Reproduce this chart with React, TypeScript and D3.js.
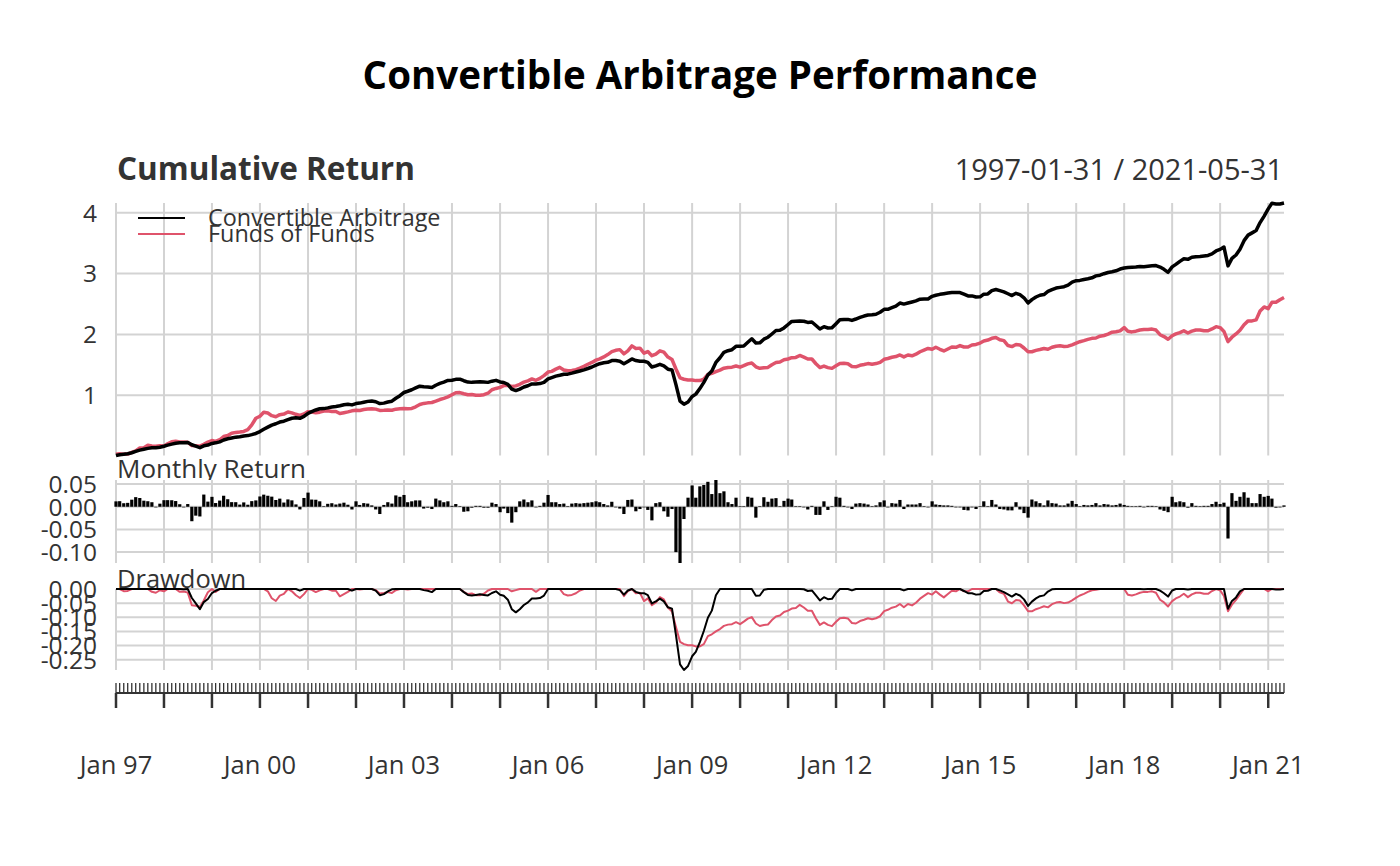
import * as d3 from 'd3'

// EDHEC style monthly returns, Jan 1997 .. May 2021 (one row per year)
const startYear = 1997
const seriesNames = ['Convertible Arbitrage', 'Funds of Funds']
const seriesColors = ['#000000', '#DF536B']

const caReturns = [
  0.0119, 0.0123, 0.0078, 0.0086, 0.0156, 0.0212, 0.0193, 0.0134, 0.0122, 0.0100, 0.0000, 0.0068,
  0.0145, 0.0146, 0.0144, 0.0126, 0.0056, -0.0006, 0.0060, -0.0319, -0.0196, -0.0214, 0.0269, 0.0113,
  0.0219, 0.0082, 0.0136, 0.0243, 0.0166, 0.0102, 0.0101, 0.0048, 0.0096, 0.0045, 0.0124, 0.0140,
  0.0227, 0.0267, 0.0243, 0.0223, 0.0149, 0.0179, 0.0093, 0.0162, 0.0141, 0.0052, -0.0059, 0.0194,
  0.0312, 0.0159, 0.0155, 0.0120, 0.0010, 0.0065, 0.0078, 0.0050, 0.0070, 0.0090, 0.0045, -0.0060,
  0.0120, 0.0040, 0.0080, 0.0070, 0.0030, -0.0060, -0.0160, 0.0040, 0.0100, 0.0070, 0.0250, 0.0220,
  0.0260, 0.0100, 0.0120, 0.0140, 0.0140, -0.0040, -0.0020, -0.0050, 0.0180, 0.0140, 0.0100, 0.0120,
  0.0020, 0.0060, 0.0010, -0.0110, -0.0100, -0.0020, 0.0020, 0.0020, -0.0020, -0.0020, 0.0090, 0.0060,
  -0.0120, -0.0040, -0.0140, -0.0350, -0.0120, 0.0120, 0.0160, 0.0100, 0.0140, 0.0000, 0.0020, 0.0090,
  0.0260, 0.0100, 0.0100, 0.0060, 0.0070, 0.0010, 0.0070, 0.0080, 0.0070, 0.0080, 0.0090, 0.0100,
  0.0120, 0.0100, 0.0060, 0.0030, 0.0110, 0.0000, -0.0040, -0.0160, 0.0150, 0.0160, -0.0100, -0.0050,
  0.0000, -0.0070, -0.0300, 0.0080, 0.0100, -0.0100, -0.0220, -0.0050, -0.1000, -0.1240, -0.0270, 0.0200,
  0.0470, 0.0200, 0.0450, 0.0480, 0.0550, 0.0280, 0.0590, 0.0300, 0.0340, 0.0100, 0.0060, 0.0200,
  0.0010, 0.0010, 0.0220, 0.0200, -0.0240, 0.0010, 0.0210, 0.0110, 0.0180, 0.0190, 0.0010, 0.0130,
  0.0180, 0.0160, 0.0010, 0.0010, -0.0010, -0.0060, 0.0020, -0.0180, -0.0180, 0.0120, -0.0070, 0.0010,
  0.0220, 0.0200, 0.0020, 0.0000, -0.0050, 0.0070, 0.0080, 0.0070, 0.0050, 0.0010, 0.0030, 0.0100,
  0.0140, 0.0000, 0.0080, 0.0070, 0.0150, -0.0050, 0.0050, 0.0050, 0.0050, 0.0080, 0.0010, 0.0000,
  0.0120, 0.0050, 0.0040, 0.0030, 0.0030, 0.0020, 0.0000, 0.0000, -0.0070, -0.0080, 0.0000, -0.0050,
  0.0010, 0.0120, 0.0010, 0.0150, 0.0050, -0.0050, -0.0060, -0.0080, -0.0080, 0.0100, -0.0060, -0.0140,
  -0.0240, 0.0160, 0.0120, 0.0080, 0.0030, 0.0140, 0.0080, 0.0070, 0.0030, 0.0030, 0.0070, 0.0130,
  0.0060, 0.0010, 0.0040, 0.0030, 0.0040, 0.0080, 0.0030, 0.0060, 0.0050, 0.0030, 0.0040, 0.0070,
  0.0040, 0.0020, 0.0010, 0.0010, 0.0020, -0.0010, 0.0020, 0.0020, 0.0010, -0.0060, -0.0090, -0.0120,
  0.0220, 0.0100, 0.0120, 0.0100, -0.0020, 0.0080, 0.0020, 0.0010, 0.0020, 0.0020, 0.0060, 0.0110,
  0.0060, 0.0090, -0.0700, 0.0300, 0.0130, 0.0220, 0.0320, 0.0200, 0.0080, 0.0080, 0.0280, 0.0220,
  0.0240, 0.0180, -0.0020, 0.0000, 0.0030,
]

const fofReturns = [
  0.0317, 0.0106, -0.0077, 0.0009, 0.0275, 0.0225, 0.0435, 0.0051, 0.0334, -0.0099, -0.0034, 0.0089,
  -0.0036, 0.0300, 0.0280, 0.0056, -0.0100, 0.0013, -0.0041, -0.0450, -0.0020, -0.0050, 0.0250, 0.0300,
  0.0211, -0.0105, 0.0216, 0.0412, 0.0128, 0.0290, 0.0093, 0.0039, 0.0072, 0.0207, 0.0538, 0.0729,
  0.0200, 0.0400, -0.0080, -0.0250, -0.0100, 0.0200, 0.0060, 0.0200, -0.0080, -0.0140, -0.0100, 0.0140,
  0.0220, -0.0030, -0.0080, 0.0060, 0.0100, 0.0030, -0.0060, 0.0000, -0.0200, 0.0080, 0.0080, 0.0100,
  0.0060, -0.0020, 0.0080, 0.0050, 0.0030, -0.0040, -0.0120, 0.0020, 0.0030, -0.0030, 0.0100, 0.0040,
  0.0020, -0.0020, 0.0030, 0.0150, 0.0200, 0.0100, 0.0050, 0.0030, 0.0120, 0.0140, 0.0100, 0.0120,
  0.0180, 0.0160, 0.0020, -0.0100, -0.0080, 0.0020, -0.0060, 0.0000, 0.0050, 0.0120, 0.0280, 0.0100,
  0.0080, 0.0140, 0.0020, -0.0080, 0.0040, 0.0120, 0.0160, 0.0100, 0.0140, -0.0100, 0.0140, 0.0200,
  0.0250, 0.0050, 0.0150, 0.0120, -0.0180, -0.0050, 0.0020, 0.0060, 0.0100, 0.0120, 0.0140, 0.0120,
  0.0150, 0.0080, 0.0120, 0.0150, 0.0180, 0.0080, 0.0040, -0.0250, 0.0180, 0.0300, -0.0150, 0.0020,
  -0.0300, 0.0100, -0.0250, 0.0100, 0.0200, -0.0080, -0.0300, -0.0150, -0.0600, -0.0600, -0.0100, -0.0050,
  0.0000, -0.0050, 0.0000, 0.0100, 0.0350, 0.0080, 0.0120, 0.0100, 0.0130, 0.0050, 0.0020, 0.0080,
  -0.0080, 0.0100, 0.0120, 0.0060, -0.0250, -0.0100, 0.0040, 0.0020, 0.0180, 0.0140, 0.0040, 0.0140,
  0.0050, 0.0080, 0.0020, 0.0120, -0.0100, -0.0120, 0.0000, -0.0300, -0.0250, 0.0100, -0.0100, -0.0050,
  0.0180, 0.0140, 0.0020, -0.0030, -0.0180, -0.0020, 0.0100, 0.0050, 0.0060, -0.0040, 0.0040, 0.0080,
  0.0200, 0.0050, 0.0080, 0.0040, 0.0100, -0.0120, 0.0120, -0.0050, 0.0100, 0.0150, 0.0100, 0.0100,
  -0.0050, 0.0120, -0.0120, -0.0100, 0.0120, 0.0120, -0.0020, 0.0100, -0.0080, 0.0000, 0.0120, 0.0030,
  0.0080, 0.0120, 0.0050, 0.0100, 0.0040, -0.0120, -0.0050, -0.0280, -0.0060, 0.0120, -0.0020, -0.0180,
  -0.0220, 0.0000, 0.0080, 0.0050, 0.0060, -0.0040, 0.0120, 0.0060, 0.0020, -0.0040, 0.0020, 0.0080,
  0.0100, 0.0080, 0.0060, 0.0070, 0.0060, 0.0020, 0.0100, 0.0040, 0.0080, 0.0100, 0.0020, 0.0050,
  0.0180, -0.0200, -0.0030, 0.0040, 0.0060, 0.0030, 0.0000, 0.0020, -0.0050, -0.0250, -0.0100, -0.0150,
  0.0200, 0.0100, 0.0070, 0.0100, -0.0120, 0.0100, 0.0060, 0.0000, -0.0040, 0.0000, 0.0100, 0.0120,
  -0.0050, -0.0200, -0.0550, 0.0250, 0.0180, 0.0200, 0.0300, 0.0200, 0.0000, 0.0050, 0.0450, 0.0200,
  -0.0080, 0.0300, 0.0000, 0.0120, 0.0100,
]

const cumTicks = [1, 2, 3, 4]
const retTicks = [0.05, 0, -0.05, -0.1]
const ddTicks = [0, -0.05, -0.1, -0.15, -0.2, -0.25]
const labelYears = [1997, 2000, 2003, 2006, 2009, 2012, 2015, 2018, 2021]

const FONT = '"Open Sans", "Noto Sans", sans-serif'
const TEXT = '#333333'
const GRID = '#D3D3D3'

// month-end index
const dates = caReturns.map((_, i) => new Date(Date.UTC(startYear, i + 1, 0)))
const allReturns = [caReturns, fofReturns]

function cumulative(r: number[]) {
  let g = 1
  return r.map((v) => (g *= 1 + v) - 1)
}
function drawdown(r: number[]) {
  let g = 1
  let peak = 1
  return r.map((v) => {
    g *= 1 + v
    peak = Math.max(peak, g)
    return g / peak - 1
  })
}

const cums = allReturns.map(cumulative)
const dds = allReturns.map(drawdown)

const left = 116
const right = 1284
const cumPanel = { top: 203, bottom: 455.5 }
const retPanel = { top: 480, bottom: 563 }
const ddPanel = { top: 589, bottom: 670 }

export default function App() {
  const x = d3.scaleUtc().domain([dates[0], dates[dates.length - 1]]).range([left, right])
  const yCum = d3
    .scaleLinear()
    .domain(d3.extent(cums.flat()) as [number, number])
    .range([cumPanel.bottom, cumPanel.top])
  const yRet = d3
    .scaleLinear()
    .domain(d3.extent(caReturns) as [number, number])
    .range([retPanel.bottom, retPanel.top])
  const yDD = d3
    .scaleLinear()
    .domain([d3.min(dds.flat()) as number, 0])
    .range([ddPanel.bottom, ddPanel.top])

  const yearDates = dates.filter((d) => d.getUTCMonth() === 0)
  const fmt = d3.utcFormat('%b %y')
  const ymd = d3.utcFormat('%Y-%m-%d')

  const cumLine = d3
    .line<number>()
    .x((_, i) => x(dates[i]))
    .y((v) => yCum(v))
  const ddLine = d3
    .line<number>()
    .x((_, i) => x(dates[i]))
    .y((v) => yDD(v))

  const vGrid = (p: { top: number; bottom: number }) =>
    yearDates.map((d) => (
      <line key={+d} x1={x(d)} x2={x(d)} y1={p.top} y2={p.bottom} stroke={GRID} strokeWidth={2} />
    ))

  const hGrid = (ticks: number[], y: d3.ScaleLinear<number, number>) =>
    ticks.map((t) => (
      <line key={t} x1={left} x2={right} y1={y(t)} y2={y(t)} stroke={GRID} strokeWidth={2} />
    ))

  const yLabels = (ticks: number[], y: d3.ScaleLinear<number, number>, f: (v: number) => string) =>
    ticks.map((t) => (
      <text key={t} x={97} y={y(t)} dy="0.36em" textAnchor="end" fontSize={24.5} fill={TEXT}>
        {f(t)}
      </text>
    ))

  return (
    <svg
      width={1400}
      height={866}
      style={{ position: 'absolute', left: 0, top: 0, background: '#fff' }}
      fontFamily={FONT}
    >
      <defs>
        <clipPath id="retHead">
          <rect x={0} y={440} width={1400} height={retPanel.top - 440} />
        </clipPath>
      </defs>

      <text x={700} y={89} textAnchor="middle" fontSize={38.5} fontWeight={700} fill="#000">
        Convertible Arbitrage Performance
      </text>

      {/* cumulative return panel */}
      <text x={left + 1} y={180} fontSize={31.5} fontWeight={700} fill={TEXT}>
        Cumulative Return
      </text>
      <text x={right - 1} y={180} textAnchor="end" fontSize={29} fill={TEXT}>
        {`${ymd(dates[0])} / ${ymd(dates[dates.length - 1])}`}
      </text>
      {vGrid(cumPanel)}
      {hGrid(cumTicks, yCum)}
      {yLabels(cumTicks, yCum, (v) => `${v}`)}
      {cums.map((c, k) => (
        <path key={k} d={cumLine(c) ?? ''} fill="none" stroke={seriesColors[k]} strokeWidth={3.5} strokeLinejoin="round" />
      )).reverse()}
      {seriesNames.map((name, k) => (
        <g key={name}>
          <line x1={138} x2={185} y1={218 + k * 16} y2={218 + k * 16} stroke={seriesColors[k]} strokeWidth={2} />
          <text x={208} y={226 + k * 16} fontSize={23.4} fill={TEXT}>
            {name}
          </text>
        </g>
      ))}

      {/* monthly return panel */}
      <text x={left + 1} y={478} fontSize={26} fill={TEXT} clipPath="url(#retHead)">
        Monthly Return
      </text>
      {vGrid(retPanel)}
      {hGrid(retTicks, yRet)}
      {yLabels(retTicks, yRet, (v) => v.toFixed(2))}
      {caReturns.map((v, i) => (
        <rect
          key={i}
          x={x(dates[i]) - 1.6}
          width={3.2}
          y={Math.min(yRet(v), yRet(0))}
          height={Math.max(Math.abs(yRet(v) - yRet(0)), 0.6)}
          fill="#000"
        />
      ))}

      {/* drawdown panel */}
      <text x={left + 1} y={588} fontSize={25.5} fill={TEXT}>
        Drawdown
      </text>
      {vGrid(ddPanel)}
      {hGrid(ddTicks, yDD)}
      {yLabels(ddTicks, yDD, (v) => v.toFixed(2))}
      {dds.map((d, k) => (
        <path key={k} d={ddLine(d) ?? ''} fill="none" stroke={seriesColors[k]} strokeWidth={2} strokeLinejoin="round" />
      )).reverse()}

      {/* time axis */}
      {dates.map((d) => (
        <line key={+d} x1={x(d)} x2={x(d)} y1={683} y2={693} stroke={TEXT} strokeWidth={1.3} />
      ))}
      <line x1={left} x2={right} y1={693} y2={693} stroke={TEXT} strokeWidth={2} />
      {yearDates.map((d) => (
        <line key={+d} x1={x(d)} x2={x(d)} y1={693} y2={708} stroke={TEXT} strokeWidth={2.5} />
      ))}
      {yearDates
        .filter((d) => labelYears.includes(d.getUTCFullYear()))
        .map((d) => (
          <text key={+d} x={x(d)} y={774} textAnchor="middle" fontSize={25.5} fill={TEXT}>
            {fmt(d)}
          </text>
        ))}
    </svg>
  )
}
